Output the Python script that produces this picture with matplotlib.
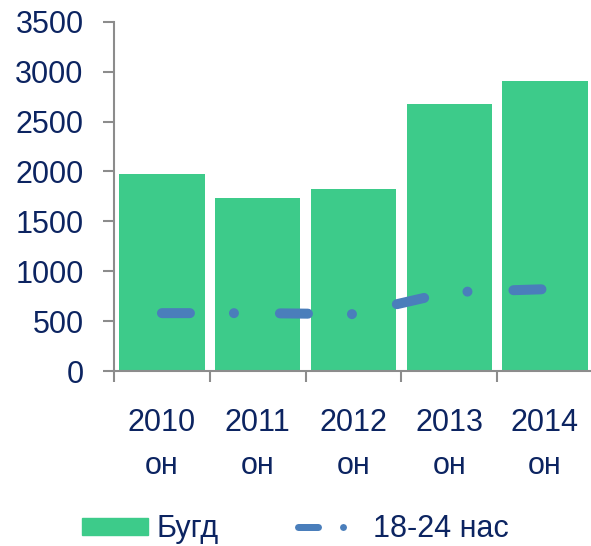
import matplotlib
matplotlib.use("Agg")
import matplotlib.pyplot as plt
from matplotlib.patches import Patch
from matplotlib.lines import Line2D
import numpy as np

years = ["2010", "2011", "2012", "2013", "2014"]
suffix = "он"
total = [1975, 1735, 1825, 2675, 2905]
age_18_24 = [580, 580, 570, 790, 820]
yticks = [0, 500, 1000, 1500, 2000, 2500, 3000, 3500]

green = "#3DCB8A"
blue = "#4A7EBB"
navy = "#0C2461"
grey = "#8C8C8C"

plt.rcParams['font.family'] = ['Liberation Sans', 'DejaVu Sans']
plt.rcParams['lines.scale_dashes'] = False

fig = plt.figure(figsize=(5.91, 5.46), dpi=100)
ax = fig.add_axes([0.193, 0.3205, 0.81, 0.6395])

x = np.arange(len(years))
ax.bar(x, total, width=0.89, color=green, zorder=1)

px = 72 / 100  # pixel -> points
line, = ax.plot(x, age_18_24, color=blue, lw=10 * px, solid_capstyle='round',
                dash_capstyle='round', zorder=2)
line.set_dashes((28 * px, 44 * px, 0.01, 46 * px))

ax.set_xlim(-0.5, len(years) - 0.5)
ax.set_ylim(0, 3500)
ax.set_yticks(yticks)
ax.set_yticklabels([str(v) for v in yticks], fontsize=22, color=navy)

ax.set_xticks(np.arange(len(years) + 1) - 0.5)
ax.set_xticklabels([])
for i, y in enumerate(years):
    ax.text(i, -370, y, ha='center', va='top', fontsize=22, color=navy)
    ax.text(i, -800, suffix, ha='center', va='top', fontsize=22, color=navy)

for side in ['top', 'right']:
    ax.spines[side].set_visible(False)
for side in ['left', 'bottom']:
    ax.spines[side].set_color(grey)
    ax.spines[side].set_linewidth(1.5)
ax.tick_params(axis='y', color=grey, width=1.5, length=8, pad=14)
ax.tick_params(axis='x', color=grey, width=1.5, length=8)

handles = [Patch(color=green),
           Line2D([0], [0], color=blue, lw=7 * px, dash_capstyle='round',
                  dashes=(20 * px, 25 * px, 0.01, 100 * px))]
fig.legend(handles, ["Бугд", "18-24 нас"], loc='center', bbox_to_anchor=(0.50, 0.031),
           ncol=2, frameon=False, fontsize=22, labelcolor=navy,
           handlelength=2.15, handleheight=0.5, handletextpad=0.3, columnspacing=2.6)

fig.savefig("out.png", dpi=100)
